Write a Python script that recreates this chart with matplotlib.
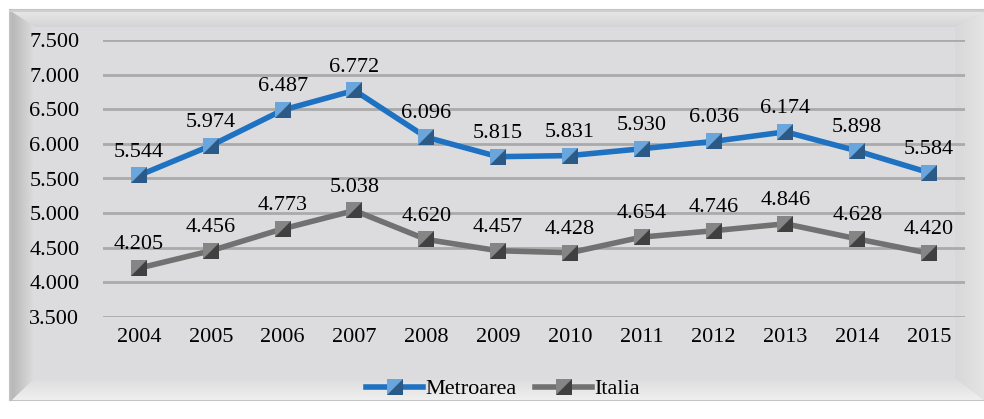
import matplotlib
matplotlib.use('Agg')
import matplotlib.pyplot as plt
import numpy as np
from matplotlib.patches import Polygon
from matplotlib.path import Path
from matplotlib.lines import Line2D
from matplotlib.legend_handler import HandlerTuple
from matplotlib.ticker import FuncFormatter

plt.rcParams['font.family'] = ['Liberation Serif', 'DejaVu Serif']

years = ['2004', '2005', '2006', '2007', '2008', '2009', '2010', '2011', '2012', '2013', '2014', '2015']
metroarea = [5544, 5974, 6487, 6772, 6096, 5815, 5831, 5930, 6036, 6174, 5898, 5584]
italia = [4205, 4456, 4773, 5038, 4620, 4457, 4428, 4654, 4746, 4846, 4628, 4420]

W, H = 984, 419
FS = 16
fig = plt.figure(figsize=(W / 100, H / 100), dpi=100)
fig.patch.set_facecolor('white')

# background panel with bevel, drawn in pixel coords
bg = fig.add_axes([0, 0, 1, 1])
bg.set_xlim(0, W)
bg.set_ylim(H, 0)
bg.axis('off')

def grad_poly(pts, c0, c1, horizontal=True):
    poly = Polygon(pts, closed=True, facecolor='none', edgecolor='none')
    bg.add_patch(poly)
    xs = [p[0] for p in pts]
    ys = [p[1] for p in pts]
    g = np.linspace(0, 1, 64)
    arr = g[None, :] if horizontal else g[:, None]
    c0 = np.array(matplotlib.colors.to_rgb(c0))
    c1 = np.array(matplotlib.colors.to_rgb(c1))
    img = c0 + (c1 - c0) * arr[..., None]
    im = bg.imshow(img, extent=(min(xs), max(xs), max(ys), min(ys)), aspect='auto',
                   interpolation='bilinear', zorder=1)
    im.set_clip_path(poly)

bg.add_patch(Polygon([(10, 10), (984, 10), (984, 400), (10, 400)], closed=True,
                     facecolor='#dcdcde', edgecolor='#c4c4c4', lw=1.5, zorder=0))
# top bevel
grad_poly([(12, 12), (984, 12), (955, 27), (35, 27)], '#e6e6e6', '#d4d4d6', horizontal=False)
# left bevel
grad_poly([(12, 12), (35, 27), (35, 378), (12, 400)], '#b8b8b8', '#dedee0', horizontal=True)
# right bevel
grad_poly([(984, 12), (955, 27), (955, 378), (984, 400)], '#d8d8da', '#e4e4e4', horizontal=True)
# bottom fade
grad_poly([(12, 400), (35, 378), (955, 378), (984, 400)], '#dcdcde', '#efefef', horizontal=False)
bg.plot([11, 11], [10, 400], color='#bdbdbd', lw=1.5, zorder=2)
bg.plot([10, 984], [11, 11], color='#cfcfcf', lw=1.5, zorder=2)

ax = fig.add_axes([103 / W, 1 - 317 / H, 862 / W, 277 / H])
ax.set_facecolor('none')
x = np.arange(len(years))
ax.set_xlim(-0.5, len(years) - 0.5)
ax.set_ylim(3500, 7500)
ax.set_yticks(np.arange(3500, 7501, 500))
ax.yaxis.set_major_formatter(FuncFormatter(lambda v, p: '{:,.0f}'.format(v).replace(',', '.')))
ax.set_xticks(x)
ax.set_xticklabels(years)
ax.tick_params(axis='y', length=0, pad=17, labelsize=FS)
ax.tick_params(axis='x', length=0, pad=8, labelsize=FS)
for s in ax.spines.values():
    s.set_visible(False)
ax.grid(axis='y', color='#aaaaaa', lw=2)
ax.set_axisbelow(True)

tri = Path([(-1, -1), (1, -1), (1, 1), (-1, -1)], [Path.MOVETO, Path.LINETO, Path.LINETO, Path.CLOSEPOLY])

series = [
    (metroarea, 'Metroarea', '#1f72c2', '#6aa5dc', '#2c5a86'),
    (italia, 'Italia', '#717171', '#858585', '#404040'),
]
handles = []
for vals, name, lc, light, dark in series:
    ax.plot(x, vals, color=lc, lw=4, marker='s', ms=11.5, mfc=light, mec=light, mew=0, zorder=3)
    ax.plot(x, vals, ls='none', marker=tri, ms=11.5, mfc=dark, mec=dark, mew=0, zorder=4)
    for xi, v in zip(x, vals):
        ax.annotate('{:,.0f}'.format(v).replace(',', '.'), (xi, v), xytext=(0, 10),
                    textcoords='offset points', ha='center', va='bottom', fontsize=FS, zorder=5)
    h1 = Line2D([], [], color=lc, lw=4, marker='s', ms=11.5, mfc=light, mec=light, mew=0)
    h2 = Line2D([], [], ls='none', marker=tri, ms=11.5, mfc=dark, mec=dark, mew=0)
    handles.append((h1, h2))

fig.legend(handles, ['Metroarea', 'Italia'], loc='center', bbox_to_anchor=(503 / W, 1 - 389 / H),
           ncol=2, frameon=False, fontsize=FS, handlelength=2.6, handletextpad=0.1, columnspacing=0.8,
           handler_map={tuple: HandlerTuple(ndivide=1, pad=0)})

fig.savefig('out.png', dpi=100)
